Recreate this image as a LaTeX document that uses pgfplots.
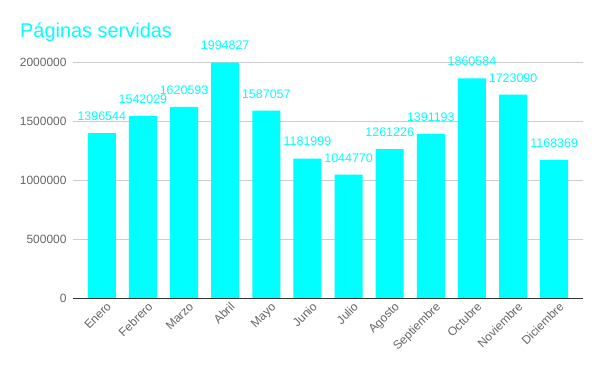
\documentclass[border=0pt]{standalone}
\usepackage{pgfplots}
\pgfplotsset{compat=1.18}
\usepackage{pgfplotstable}
\usepackage{fontspec}
\setmainfont{Liberation Sans}
\definecolor{barc}{HTML}{00FFFF}
\definecolor{tickc}{HTML}{666666}
\definecolor{gridc}{HTML}{CCCCCC}
\definecolor{basec}{HTML}{333333}
\pgfplotstableread{
x y lab
0 1396544 1396544
1 1542029 1542029
2 1620593 1620593
3 1994827 1994827
4 1587057 1587057
5 1181999 1181999
6 1044770 1044770
7 1261226 1261226
8 1391193 1391193
9 1860584 1860584
10 1723090 1723090
11 1168369 1168369
}\datatab
\begin{document}
\begin{tikzpicture}
\path[use as bounding box] (-73bp,-73bp) rectangle (527bp,298bp);
\begin{axis}[
  at={(0,0)}, anchor=south west,
  scale only axis, width=510bp, height=236bp,
  xmin=-0.7, xmax=11.7, ymin=0, ymax=2000000,
  ybar, bar width=28bp,
  clip=false,
  axis line style={draw=none},
  major tick length=0pt,
  ymajorgrids, grid style={gridc, line width=0.6pt},
  ytick={0,500000,1000000,1500000,2000000},
  scaled y ticks=false,
  yticklabel={\pgfmathprintnumber[fixed,precision=0,1000 sep={}]{\tick}},
  /pgf/number format/assume math mode=true,
  yticklabel style={font=\fontsize{12}{12}\selectfont, color=tickc, anchor=east, xshift=-3bp},
  xtick={0,...,11},
  xticklabels={Enero,Febrero,Marzo,Abril,Mayo,Junio,Julio,Agosto,Septiembre,Octubre,Noviembre,Diciembre},
  xticklabel style={font=\fontsize{12}{12}\selectfont, color=tickc, rotate=45, anchor=north east, xshift=4bp, yshift=-2bp},
  point meta=explicit symbolic,
  nodes near coords,
  nodes near coords style={font=\fontsize{12.5}{12.5}\selectfont, color=barc, anchor=south, yshift=9bp},
]
\addplot[fill=barc, draw=none] table[x=x, y=y, meta=lab] {\datatab};
\draw[basec, line width=0.8pt] (rel axis cs:0,0) -- (rel axis cs:1,0);
\end{axis}
\node[anchor=base west, font=\fontsize{20}{21}\selectfont, color=barc, inner sep=0pt] at (-53bp,260bp) {Páginas servidas};
\end{tikzpicture}
\end{document}
